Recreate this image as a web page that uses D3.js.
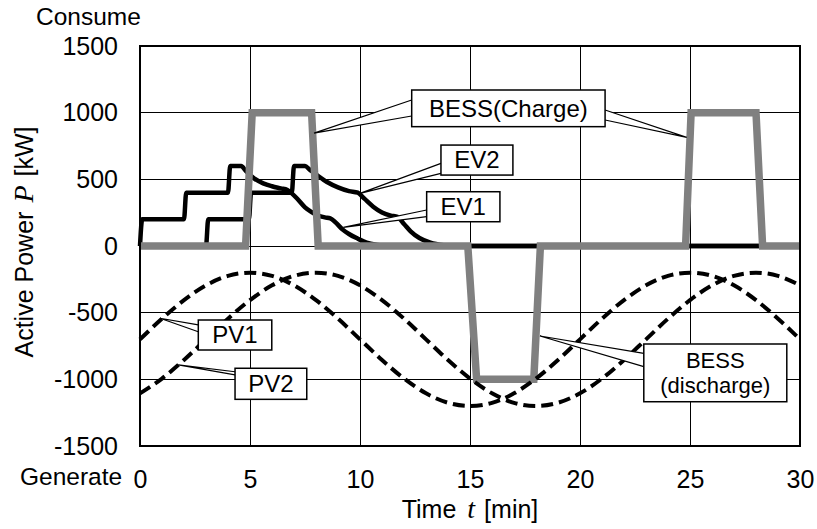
<!DOCTYPE html>
<html>
<head>
<meta charset="utf-8">
<script src="https://cdn.jsdelivr.net/npm/d3@7"></script>
<style>
body { margin: 0; background: #fff; }
svg { display: block; font-family: "Liberation Sans", Arial, sans-serif; }
</style>
</head>
<body>
<svg id="chart" width="817" height="529"></svg>
<script>
const time_ticks = [0, 5, 10, 15, 20, 25, 30]
const power_ticks = [-1500, -1000, -500, 0, 500, 1000, 1500]

// PV sampled every minute
const pv_time = [0,1,2,3,4,5,6,7,8,9,10,11,12,13,14,15,16,17,18,19,20,21,22,23,24,25,26,27,28,29,30]
const pv1_power = [-700,-545,-406,-295,-224,-200,-224,-295,-406,-545,-700,-855,-994,-1105,-1176,-1200,-1176,-1105,-994,-855,-700,-545,-406,-295,-224,-200,-224,-295,-406,-545,-700]
const pv2_power = [-1105,-994,-855,-700,-545,-406,-295,-224,-200,-224,-295,-406,-545,-700,-855,-994,-1105,-1176,-1200,-1176,-1105,-994,-855,-700,-545,-406,-295,-224,-200,-224,-295]

const ev1_time = [0,0.1,2.0,2.1,4.0,4.1,4.6,4.8,5.2,5.6,6.0,6.4,6.7,6.9,7.2,7.5,7.8,8.1,8.4,8.65,8.9,9.2,9.5,9.9,10.3,10.8,11.3,30]
const ev1_power = [0,200,200,400,400,600,600,565,505,470,448,432,420,395,345,290,255,228,215,208,175,125,90,55,25,8,0,0]

const ev2_time = [0,3.0,3.1,4.95,5.05,6.9,7.0,7.5,7.7,8.1,8.5,9.0,9.5,9.9,10.2,10.6,11.0,11.4,11.7,12.0,12.3,12.7,13.2,13.8,14.4,30]
const ev2_power = [0,0,200,200,400,400,600,600,575,525,480,440,412,400,355,295,252,228,218,165,110,60,25,6,0,0]

const bess_time = [0,4.8,5.1,7.8,8.1,14.9,15.3,17.9,18.2,24.8,25.05,28.0,28.3,30]
const bess_power = [0,0,1000,1000,0,0,-1000,-1000,0,0,1000,1000,0,0]

const callouts = [
    {lines: ["BESS(Charge)"], box: [12.35, 21.14, 1170, 895], wedges: [[[12.35, 1095], [7.91, 847], [12.35, 975]], [[21.14, 1020], [24.85, 815], [21.14, 945]]]},
    {lines: ["EV2"], box: [13.68, 16.95, 757, 532], wedges: [[[13.68, 620], [10.0, 395], [13.68, 545]]]},
    {lines: ["EV1"], box: [13.03, 16.36, 407, 182], wedges: [[[13.03, 270], [9.24, 140], [13.03, 220]]]},
    {lines: ["PV1"], box: [2.65, 5.99, -555, -780], wedges: [[[2.65, -592], [0.91, -542], [2.65, -643]]]},
    {lines: ["PV2"], box: [4.32, 7.58, -917, -1150], wedges: [[[4.32, -943], [1.74, -892], [4.32, -967]]]},
    {lines: ["BESS", "(discharge)"], box: [22.9, 29.4, -735, -1168], wedges: [[[22.9, -805], [18.18, -675], [22.9, -905]]]}
]

const margin = {left: 140, right: 17, top: 46, bottom: 83}
const width = 817, height = 529
const svg = d3.select("#chart")
const font = "Liberation Sans, Arial, sans-serif"

const x = d3.scaleLinear().domain([0, 30]).range([margin.left, width - margin.right])
const y = d3.scaleLinear().domain([-1500, 1500]).range([height - margin.bottom, margin.top])

const zip = (ts, ps) => ts.map((t, i) => [t, ps[i]])

// grid
svg.append("g")
    .attr("shape-rendering", "crispEdges")
    .selectAll("line")
    .data(time_ticks.slice(1, -1))
    .join("line")
    .attr("x1", d => x(d)).attr("x2", d => x(d))
    .attr("y1", y(-1500)).attr("y2", y(1500))
    .attr("stroke", "#000").attr("stroke-width", 1)
svg.append("g")
    .attr("shape-rendering", "crispEdges")
    .selectAll("line")
    .data(power_ticks.slice(1, -1))
    .join("line")
    .attr("x1", x(0)).attr("x2", x(30))
    .attr("y1", d => y(d)).attr("y2", d => y(d))
    .attr("stroke", "#000").attr("stroke-width", 1)

// axes
const x_axis = svg.append("g")
    .attr("transform", `translate(0,${y(-1500)})`)
    .call(d3.axisBottom(x).tickValues(time_ticks).tickFormat(d => String(d)).tickSize(0).tickPadding(24))
x_axis.select(".domain").remove()
x_axis.selectAll("text").attr("font-size", 25).attr("font-family", font).attr("fill", "#000")

const y_axis = svg.append("g")
    .attr("transform", `translate(${x(0)},0)`)
    .call(d3.axisLeft(y).tickValues(power_ticks).tickFormat(d => String(d)).tickSize(0).tickPadding(22))
y_axis.select(".domain").remove()
y_axis.selectAll("text").attr("font-size", 25).attr("font-family", font).attr("fill", "#000")

const line_smooth = d3.line().x(d => x(d[0])).y(d => y(d[1])).curve(d3.curveMonotoneX)
const line_straight = d3.line().x(d => x(d[0])).y(d => y(d[1]))

svg.append("path")
    .attr("d", line_smooth(zip(ev1_time, ev1_power)))
    .attr("fill", "none").attr("stroke", "#000").attr("stroke-width", 4.5)
svg.append("path")
    .attr("d", line_smooth(zip(ev2_time, ev2_power)))
    .attr("fill", "none").attr("stroke", "#000").attr("stroke-width", 4.5)

svg.append("path")
    .attr("d", line_straight(zip(bess_time, bess_power)))
    .attr("fill", "none").attr("stroke", "#808080").attr("stroke-width", 7.5)
    .attr("stroke-linejoin", "miter")

svg.append("path")
    .attr("d", line_smooth(zip(pv_time, pv1_power)))
    .attr("fill", "none").attr("stroke", "#000").attr("stroke-width", 4)
    .attr("stroke-dasharray", "12,6")
svg.append("path")
    .attr("d", line_smooth(zip(pv_time, pv2_power)))
    .attr("fill", "none").attr("stroke", "#000").attr("stroke-width", 4)
    .attr("stroke-dasharray", "12,6")

// callouts
callouts.forEach(c => {
    const g = svg.append("g")
    c.wedges.forEach(w => {
        g.append("path")
            .attr("d", "M" + w.map(p => [x(p[0]), y(p[1])].join(",")).join("L"))
            .attr("fill", "#fff").attr("stroke", "#000").attr("stroke-width", 1.2)
    })
    const bx = x(c.box[0]), bw = x(c.box[1]) - x(c.box[0])
    const by = y(c.box[2]), bh = y(c.box[3]) - y(c.box[2])
    g.append("rect")
        .attr("x", bx).attr("y", by).attr("width", bw).attr("height", bh)
        .attr("fill", "#fff").attr("stroke", "#000").attr("stroke-width", 1.5)
    const multi = c.lines.length > 1
    const line_h = 25
    const first = by + bh / 2 - (c.lines.length - 1) * line_h / 2
    g.selectAll("text")
        .data(c.lines)
        .join("text")
        .attr("x", bx + bw / 2)
        .attr("y", (d, i) => first + i * line_h)
        .attr("dy", "0.35em")
        .attr("text-anchor", "middle")
        .attr("font-size", multi ? 22 : 24)
        .text(d => d)
})

// frame
svg.append("rect")
    .attr("x", x(0)).attr("y", y(1500))
    .attr("width", x(30) - x(0)).attr("height", y(-1500) - y(1500))
    .attr("fill", "none").attr("stroke", "#000").attr("stroke-width", 2)

svg.append("text")
    .attr("x", 36).attr("y", 25)
    .attr("font-size", 24.5)
    .text("Consume")
svg.append("text")
    .attr("x", 20).attr("y", 485)
    .attr("font-size", 24.5)
    .text("Generate")

const x_title = svg.append("text")
    .attr("x", (x(0) + x(30)) / 2).attr("y", 518)
    .attr("text-anchor", "middle")
    .attr("font-size", 25)
x_title.append("tspan").text("Time")
x_title.append("tspan").attr("dx", 11).attr("font-family", "Liberation Serif, serif").attr("font-style", "italic").attr("font-size", 28).text("t")
x_title.append("tspan").attr("dx", 9).text("[min]")

const y_title = svg.append("text")
    .attr("transform", `translate(33,${(y(1500) + y(-1500)) / 2 - 4}) rotate(-90)`)
    .attr("text-anchor", "middle")
    .attr("font-size", 25)
y_title.append("tspan").text("Active Power")
y_title.append("tspan").attr("dx", 9).attr("font-family", "Liberation Serif, serif").attr("font-style", "italic").attr("font-size", 28).text("P")
y_title.append("tspan").attr("dx", 9).text("[kW]")
</script>
</body>
</html>
